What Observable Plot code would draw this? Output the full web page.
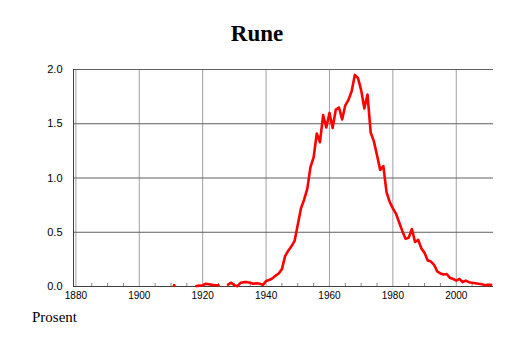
<!DOCTYPE html>
<html>
<head>
<meta charset="utf-8">
<script src="https://cdn.jsdelivr.net/npm/d3@7"></script>
<script src="https://cdn.jsdelivr.net/npm/@observablehq/plot@0.6"></script>
<style>
  html, body { margin: 0; padding: 0; background: #fff; }
  #wrap { position: relative; width: 514px; height: 343px; overflow: hidden; }
  #title { position: absolute; left: 0; top: 22px; width: 514px; text-align: center;
           font: bold 23px/23px "Liberation Serif", "Times New Roman", serif; color: #000; }
  #caption { position: absolute; left: 32px; top: 310px;
             font: 15px/15px "Liberation Serif", "Times New Roman", serif; color: #000; }
  #chart { position: absolute; left: 0; top: 0; }
</style>
</head>
<body>
<div id="wrap">
  <div id="chart"></div>
  <div id="title">Rune</div>
  <div id="caption">Prosent</div>
</div>
<script>
const years = [
  1911,1912,1913,1914,1915,1916,1917,1918,1919,1920,
  1921,1922,1923,1924,1925,1926,1927,1928,1929,1930,
  1931,1932,1933,1934,1935,1936,1937,1938,1939,1940,
  1941,1942,1943,1944,1945,1946,1947,1948,1949,1950,
  1951,1952,1953,1954,1955,1956,1957,1958,1959,1960,
  1961,1962,1963,1964,1965,1966,1967,1968,1969,1970,
  1971,1972,1973,1974,1975,1976,1977,1978,1979,1980,
  1981,1982,1983,1984,1985,1986,1987,1988,1989,1990,
  1991,1992,1993,1994,1995,1996,1997,1998,1999,2000,
  2001,2002,2003,2004,2005,2006,2007,2008,2009,2010,
  2011
];
const percent = [
  0.01, null, null, null, null, null, null, 0.004, 0.008, 0.012,
  0.025, 0.02, 0.015, 0.012, 0.012, null, null, 0.018, 0.035, 0.012,
  0.003, 0.035, 0.04, 0.04, 0.035, 0.025, 0.03, 0.025, 0.015, 0.05,
  0.06, 0.075, 0.1, 0.12, 0.16, 0.28, 0.33, 0.37, 0.42, 0.57,
  0.72, 0.8, 0.9, 1.1, 1.19, 1.41, 1.33, 1.58, 1.465, 1.6,
  1.46, 1.63, 1.65, 1.54, 1.67, 1.72, 1.8, 1.95, 1.92, 1.81,
  1.64, 1.77, 1.42, 1.34, 1.21, 1.075, 1.11, 0.87, 0.78, 0.72,
  0.67, 0.59, 0.51, 0.44, 0.45, 0.53, 0.41, 0.43, 0.35, 0.31,
  0.24, 0.23, 0.2, 0.14, 0.12, 0.11, 0.115, 0.08, 0.07, 0.055,
  0.07, 0.04, 0.055, 0.04, 0.035, 0.03, 0.025, 0.022, 0.012, 0.015,
  0.015
];
const xTicks = [1880, 1900, 1920, 1940, 1960, 1980, 2000];
const xMinorTicks = [1885,1890,1895,1905,1910,1915,1925,1930,1935,1945,1950,1955,1965,1970,1975,1985,1990,1995,2005,2010];
const yTicks = [0, 0.5, 1, 1.5, 2];
const xDomain = [1879.25, 2011.75];

const data = years.map((year, i) => ({ year, value: percent[i] }));
const isolated = data.filter((d, i) =>
  d.value != null &&
  (i === 0 || data[i - 1].value == null) &&
  (i === data.length - 1 || data[i + 1].value == null));

const W = 514, H = 343, mT = 69, mB = 57, mL = 73, mR = 21;
const innerH = H - mT - mB;

const chart = Plot.plot({
  width: W,
  height: H,
  marginTop: mT,
  marginBottom: mB,
  marginLeft: mL,
  marginRight: mR,
  x: { domain: xDomain, axis: null, label: null },
  y: { domain: [0, 2], axis: null, label: null },
  style: { background: "transparent", fontFamily: "'Liberation Sans', Arial, Helvetica, sans-serif", color: "#000" },
  marks: [
    Plot.ruleX(xTicks, { stroke: "#a0a0a0", strokeWidth: 1 }),
    Plot.ruleY(yTicks.filter(d => d > 0), { stroke: "#606060", strokeWidth: 1 }),
    Plot.tickX(xMinorTicks, { x: d => d, stroke: "#888", insetTop: innerH - 3 }),
    Plot.ruleX([xDomain[0]], { stroke: "#404040" }),
    Plot.ruleY([0], { stroke: "#404040" }),
    Plot.axisX(xTicks, { anchor: "bottom", label: null, tickSize: 0, tickPadding: 5, fontSize: 10, tickFormat: d => String(d) }),
    Plot.axisY(yTicks, { anchor: "left", label: null, tickSize: 0, tickPadding: 11, fontSize: 11, tickFormat: d3.format(".1f") }),
    Plot.line(data, { x: "year", y: "value", stroke: "#ff0000", strokeWidth: 2.6 }),
    Plot.dot(isolated, { x: "year", y: "value", r: 1.4, fill: "#ff0000", stroke: "none" })
  ]
});
document.getElementById("chart").appendChild(chart);
</script>
</body>
</html>
